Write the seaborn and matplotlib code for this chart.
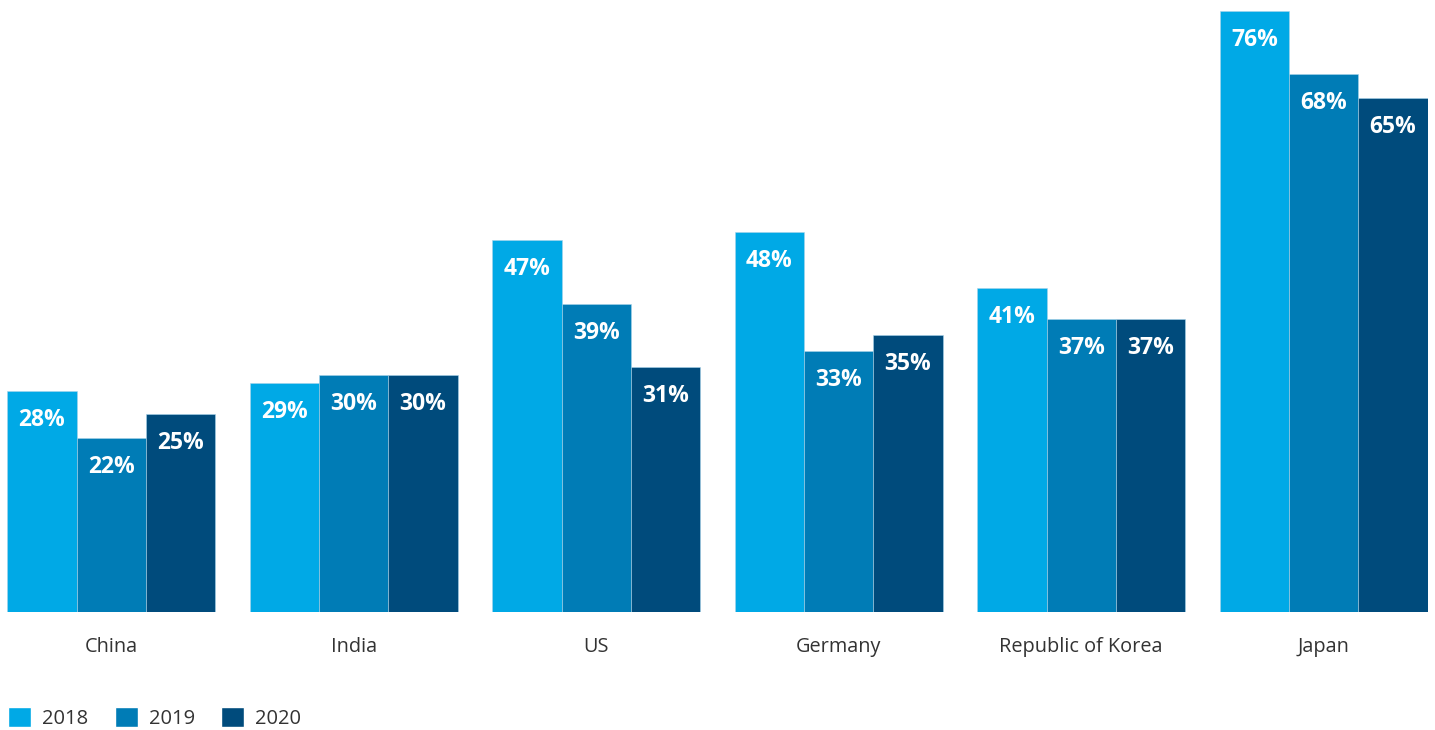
import pandas as pd
import matplotlib.pyplot as plt
import seaborn as sns
from matplotlib.patches import Patch

# Chart data
countries = ['China', 'India', 'US', 'Germany', 'Republic of Korea', 'Japan']
years = ['2018', '2019', '2020']
values_2018 = [28, 29, 47, 48, 41, 76]
values_2019 = [22, 30, 39, 33, 37, 68]
values_2020 = [25, 30, 31, 35, 37, 65]
colors = ['#00A9E6', '#007CB6', '#004B7C']

sns.set_theme(style='white')
plt.rcParams['font.family'] = ['Open Sans', 'DejaVu Sans']

df = pd.DataFrame({
    'country': countries * 3,
    'year': [y for y in years for _ in countries],
    'value': values_2018 + values_2019 + values_2020,
})

fig = plt.figure(figsize=(14.35, 7.3), dpi=100)
ax = fig.add_axes([7 / 1435, 118 / 730, 1421 / 1435, 601 / 730])

sns.barplot(data=df, x='country', y='value', hue='year', order=countries,
            hue_order=years, palette=colors, saturation=1, width=0.857,
            edgecolor='#a8d4ea', linewidth=0.4, legend=False, ax=ax)

# Value labels inside the bars
for container in ax.containers:
    for bar in container:
        h = bar.get_height()
        ax.annotate(f'{h:.0f}%', (bar.get_x() + bar.get_width() / 2, h),
                    xytext=(0, -29), textcoords='offset pixels',
                    ha='center', va='center', color='white',
                    fontsize=16.5, fontweight='bold')

ax.set_xlim(-0.43, 5.43)
ax.set_ylim(0, 76)
ax.set_xlabel('')
ax.set_ylabel('')
ax.set_yticks([])
ax.tick_params(axis='x', length=0, pad=18, labelsize=14.3, labelcolor='#333333')
sns.despine(ax=ax, left=True, bottom=True)

handles = [Patch(facecolor=c, label=y) for c, y in zip(colors, years)]
fig.legend(handles=handles, loc='center left', bbox_to_anchor=(0 / 1435, 12 / 730),
           ncol=3, frameon=False, fontsize=14.5, handlelength=1.15,
           handleheight=1.15, columnspacing=1.3, handletextpad=0.55,
           borderaxespad=0, labelcolor='#333333')

plt.savefig('out.png', dpi=100)
plt.close()
